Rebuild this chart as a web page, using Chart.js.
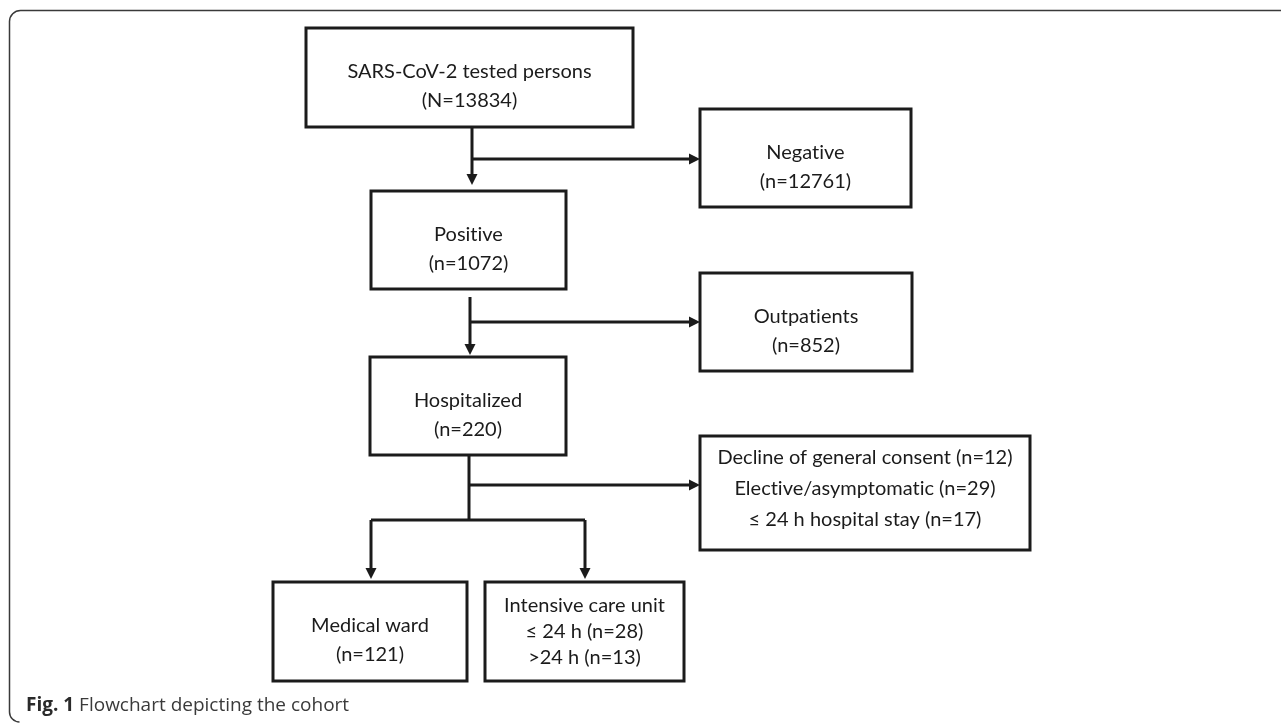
<!DOCTYPE html>
<html>
<head>
<meta charset="utf-8">
<script src="https://cdn.jsdelivr.net/npm/chart.js@4"></script>
<style>
  html, body { margin: 0; padding: 0; background: #fff; }
  #flow { display: block; }
</style>
</head>
<body>
<canvas id="flow" width="1281" height="724"></canvas>
<script>
// cohort counts
const stageLabels = ['SARS-CoV-2 tested persons', 'Negative', 'Positive', 'Outpatients', 'Hospitalized', 'Medical ward'];
const stageCounts = [13834, 12761, 1072, 852, 220, 121];
const icuTitle = 'Intensive care unit';
const icuLabels = ['≤ 24 h', '>24 h'];
const icuCounts = [28, 13];
const excludedLabels = ['Decline of general consent', 'Elective/asymptomatic', '≤ 24 h hospital stay'];
const excludedCounts = [12, 29, 17];
const captionBold = 'Fig. 1';
const captionText = ' Flowchart depicting the cohort';

// box layout in axis units (x: 0..1281, y: 0..724 top-down)
const boxes = {
    tested:   { x0: 306, x1: 633, y0: 28,  y1: 127 },
    negative: { x0: 700, x1: 911, y0: 109, y1: 207 },
    positive: { x0: 371, x1: 566, y0: 191, y1: 289 },
    outpat:   { x0: 700, x1: 912, y0: 273, y1: 371 },
    hosp:     { x0: 370, x1: 566, y0: 357, y1: 455 },
    excluded: { x0: 700, x1: 1030, y0: 436, y1: 550 },
    ward:     { x0: 273, x1: 467, y0: 582, y1: 681 },
    icu:      { x0: 485, x1: 684, y0: 582, y1: 681 },
};

// box text built from the data
function boxLines() {
    return {
        tested:   [stageLabels[0], '(N=' + stageCounts[0] + ')'],
        negative: [stageLabels[1], '(n=' + stageCounts[1] + ')'],
        positive: [stageLabels[2], '(n=' + stageCounts[2] + ')'],
        outpat:   [stageLabels[3], '(n=' + stageCounts[3] + ')'],
        hosp:     [stageLabels[4], '(n=' + stageCounts[4] + ')'],
        ward:     [stageLabels[5], '(n=' + stageCounts[5] + ')'],
        icu:      [icuTitle].concat(icuLabels.map((l, i) => l + ' (n=' + icuCounts[i] + ')')),
        excluded: excludedLabels.map((l, i) => l + ' (n=' + excludedCounts[i] + ')'),
    };
}

// Lato turns "ti" into a ligature, the original font doesn't
function noLig(s) {
    return s.replace(/t(?=i)/g, 't\u200C');
}

// arrows: [x0, y0, x1, y1, head]
const links = [
    [472, 127, 472, 185, true],
    [472, 159, 700, 159, true],
    [470, 297, 470, 355, true],
    [470, 322, 700, 322, true],
    [469, 455, 469, 520, false],
    [469, 485, 700, 485, true],
    [371, 520, 585, 520, false],
    [371, 520, 371, 579, true],
    [585, 520, 585, 579, true],
];

const ink = '#1b1b1b';

const flowPlugin = {
    id: 'flow',
    afterDraw(chart) {
        const ctx = chart.ctx;
        const sx = chart.scales.x, sy = chart.scales.y;
        const px = v => sx.getPixelForValue(v);
        const py = v => sy.getPixelForValue(v);
        ctx.save();

        // outer frame
        ctx.strokeStyle = '#3a3a3a';
        ctx.lineWidth = 1.5;
        ctx.beginPath();
        const r = 11;
        ctx.moveTo(px(1300), py(10.5));
        ctx.lineTo(px(9.5) + r, py(10.5));
        ctx.arcTo(px(9.5), py(10.5), px(9.5), py(10.5) + r, r);
        ctx.lineTo(px(9.5), py(712));
        ctx.arcTo(px(9.5), py(722), px(19.5), py(722), 10);
        ctx.stroke();

        // boxes + text
        const lines = boxLines();
        ctx.strokeStyle = ink;
        ctx.lineWidth = 3;
        ctx.fillStyle = ink;
        ctx.font = '20px Lato';
        ctx.textAlign = 'center';
        ctx.textBaseline = 'middle';
        Object.keys(boxes).forEach(k => {
            const b = boxes[k];
            const x0 = px(b.x0), x1 = px(b.x1), y0 = py(b.y0), y1 = py(b.y1);
            ctx.strokeRect(x0, y0, x1 - x0, y1 - y0);
            const t = lines[k];
            const cx = (x0 + x1) / 2, cy = (y0 + y1) / 2;
            let gap, shift;
            if (t.length === 2) { gap = 29; shift = 9; }
            else if (k === 'icu') { gap = 26; shift = 0; }
            else { gap = 31; shift = -4; }
            t.forEach((s, i) => {
                ctx.fillText(noLig(s), cx, cy + shift + (i - (t.length - 1) / 2) * gap);
            });
        });

        // connectors
        links.forEach(([ax, ay, bx, by, head]) => {
            const x0 = px(ax), y0 = py(ay), x1 = px(bx), y1 = py(by);
            const ang = Math.atan2(y1 - y0, x1 - x0);
            const hl = head ? 11 : 0;
            ctx.beginPath();
            ctx.moveTo(x0, y0);
            ctx.lineTo(x1 - Math.cos(ang) * hl, y1 - Math.sin(ang) * hl);
            ctx.stroke();
            if (head) {
                ctx.beginPath();
                ctx.moveTo(x1, y1);
                ctx.lineTo(x1 - Math.cos(ang) * hl - Math.sin(ang) * 5.5, y1 - Math.sin(ang) * hl + Math.cos(ang) * 5.5);
                ctx.lineTo(x1 - Math.cos(ang) * hl + Math.sin(ang) * 5.5, y1 - Math.sin(ang) * hl - Math.cos(ang) * 5.5);
                ctx.closePath();
                ctx.fill();
            }
        });

        // caption
        ctx.textAlign = 'left';
        ctx.fillStyle = '#2a2a2a';
        ctx.font = 'bold 19px "Open Sans"';
        ctx.fillText(captionBold, px(26), py(706));
        const w = ctx.measureText(captionBold).width;
        ctx.font = '19px "Open Sans"';
        ctx.fillStyle = '#3a3a3a';
        ctx.fillText(captionText, px(26) + w, py(706));
        ctx.restore();
    }
};

new Chart(document.getElementById('flow'), {
    type: 'scatter',
    data: { datasets: [{ data: [], pointRadius: 0 }] },
    options: {
        responsive: false,
        animation: false,
        layout: { padding: 0 },
        plugins: { legend: { display: false }, tooltip: { enabled: false } },
        scales: {
            x: { display: false, min: 0, max: 1281 },
            y: { display: false, min: 0, max: 724, reverse: true },
        },
    },
    plugins: [flowPlugin],
});
</script>
</body>
</html>
